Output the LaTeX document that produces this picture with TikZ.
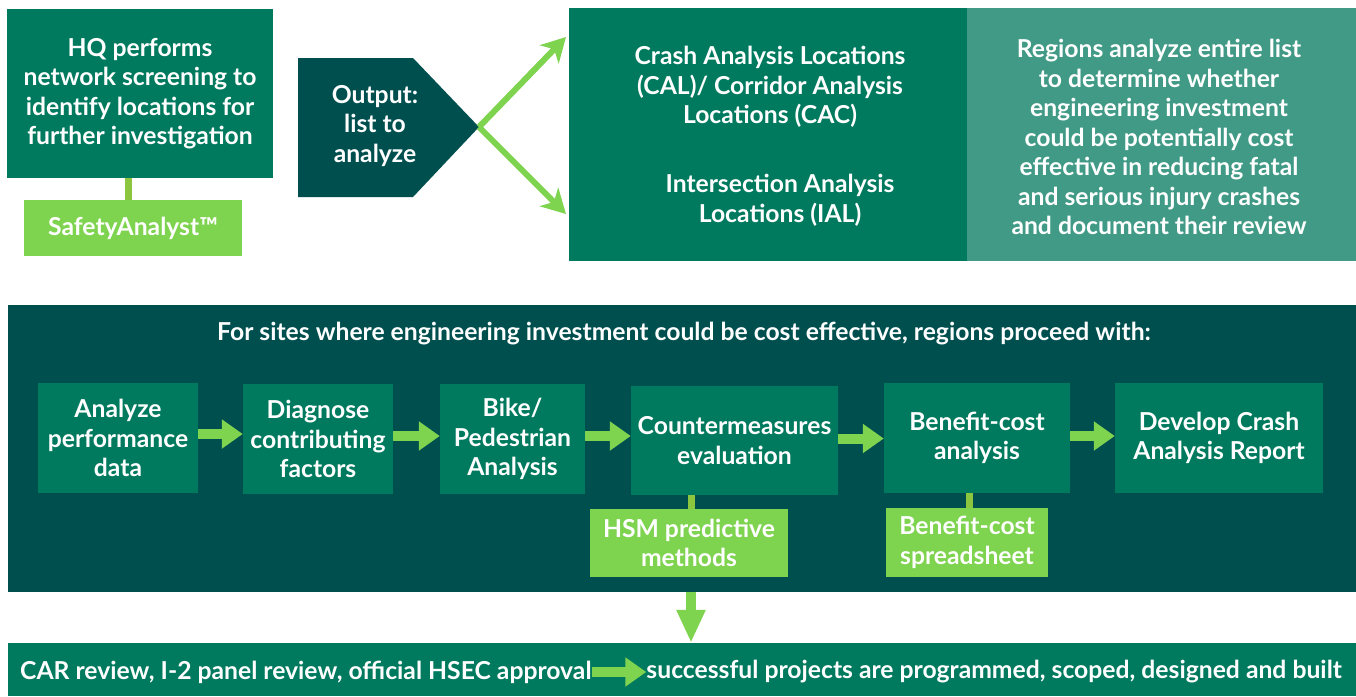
\documentclass[tikz,border=0pt]{standalone}
\usepackage{fontspec}
\setmainfont{Lato}
\usetikzlibrary{arrows.meta}
\definecolor{mg}{RGB}{0,122,94}
\definecolor{dk}{RGB}{0,79,79}
\definecolor{lt}{RGB}{64,154,133}
\definecolor{lg}{RGB}{126,211,79}
\definecolor{cg}{RGB}{140,198,63}
\newcommand\myfnt{\bfseries\fontsize{24.7}{29.5}\selectfont}
\begin{document}
\begin{tikzpicture}[x=1pt,y=-1pt,
  box/.style={fill=mg, text=white, align=center, inner sep=0pt, font=\myfnt},
  lbox/.style={fill=lg, text=white, align=center, inner sep=0pt, font=\myfnt},
  txt/.style={text=white, align=center, inner sep=0pt, font=\myfnt},
  conn/.style={draw=cg, line width=7pt},
  thinarrow/.style={draw=lg, line width=6pt, -{Stealth[length=24pt,width=26pt,inset=7pt]}},
  blockarrow/.style={draw=lg, line width=10pt, -{Triangle[length=21pt,width=28pt]}},
  downarrow/.style={draw=lg, line width=10pt, -{Triangle[length=33pt,width=27pt]}}]
\fill[white] (0,0) rectangle (1356,696);
\useasboundingbox (0,0) rectangle (1356,696);

% top-left
\node[box, minimum width=266pt, minimum height=169pt] (hq) at (140,93.5) {};
\node[txt] (hqt) at (140,93.5) {HQ performs\\network screening to\\identify locations for\\further investigation};
\node[lbox, minimum width=218pt, minimum height=56pt] (sa) at (133,228) {SafetyAnalyst™};
\draw[conn] ([xshift=-5pt]sa.north) -- ([xshift=-5pt]sa.north |- hq.south);

% output pentagon
\fill[dk] (298,58) -- (413,58) -- (479,127) -- (413,197) -- (298,197) -- cycle;
\coordinate (tip) at (479,127);
\node[txt] (outp) at (375,126) {Output:\\list to\\analyze};

% big top box
\node[box, minimum width=398pt, minimum height=253pt] (cal) at (768,134.5) {};
\node[fill=lt, inner sep=0pt, minimum width=389pt, minimum height=253pt] (reg) at (1161.5,134.5) {};
\node[txt] (calt) at (770,87) {Crash Analysis Locations\\(CAL)/ Corridor Analysis\\Locations (CAC)};
\node[txt] (ialt) at (780,200.5) {Intersection Analysis\\Locations (IAL)};
\node[txt] (regt) at (1159,137) {Regions analyze entire list\\to determine whether\\engineering investment\\could be potentially cost\\effective in reducing fatal\\and serious injury crashes\\and document their review};
\coordinate (u1) at (566,37);
\coordinate (u2) at (566,214);
\draw[thinarrow] (tip) -- (u1);
\draw[thinarrow] (tip) -- (u2);

% panel
\node[fill=dk, inner sep=0pt, minimum width=1348pt, minimum height=287pt] (pan) at (682,448.5) {};
\node[txt] (title) at (684,334) {For sites where engineering investment could be cost effective, regions proceed with:};

\node[box, minimum width=160pt, minimum height=110pt] (an) at (118,438) {Analyze\\performance\\data};
\node[box, minimum width=150pt, minimum height=110pt] (dg) at (318,439) {Diagnose\\contributing\\factors};
\node[box, minimum width=145pt, minimum height=110pt] (bk) at (512.5,439) {Bike/\\Pedestrian\\Analysis};
\node[box, minimum width=207pt, minimum height=109pt] (cm) at (734.5,440.5) {Countermeasures\\evaluation};
\node[box, minimum width=186pt, minimum height=110pt] (bc) at (977,438) {Benefit-cost\\analysis};
\node[box, minimum width=208pt, minimum height=110pt] (dv) at (1219,438) {Develop Crash\\Analysis Report};
\node[lbox, minimum width=198pt, minimum height=68pt] (hsm) at (689,543) {HSM predictive\\methods};
\node[lbox, minimum width=162pt, minimum height=69pt] (bcs) at (967,542.5) {Benefit-cost\\spreadsheet};

\draw[conn] ([xshift=2pt]hsm.north) -- ([xshift=2pt]hsm.north |- cm.south);
\draw[conn] ([xshift=2pt]bcs.north) -- ([xshift=2pt]bcs.north |- bc.south);

\draw[blockarrow] ([yshift=4pt]an.east) -- ([yshift=4pt]an.east -| dg.west);
\draw[blockarrow] ([yshift=3pt]dg.east) -- ([yshift=3pt]dg.east -| bk.west);
\draw[blockarrow] ([yshift=3pt]bk.east) -- ([yshift=3pt]bk.east -| cm.west);
\draw[blockarrow] ([yshift=2pt]cm.east) -- ([yshift=2pt]cm.east -| bc.west);
\draw[blockarrow] ([yshift=2pt]bc.east) -- ([yshift=2pt]bc.east -| dv.west);

% bottom
\node[box, minimum width=1348pt, minimum height=53pt] (bot) at (682,669.5) {};
\node[txt, anchor=west] (car) at (20,672) {CAR review, I-2 panel review, official HSEC approval};
\node[txt, anchor=east] (succ) at (1342,672) {successful projects are programmed, scoped, designed and built};
\draw[blockarrow] (car.east) -- (succ.west);
\draw[downarrow] ([xshift=2pt]hsm.south |- pan.south) -- ([xshift=2pt]hsm.south |- bot.north);
\end{tikzpicture}
\end{document}
